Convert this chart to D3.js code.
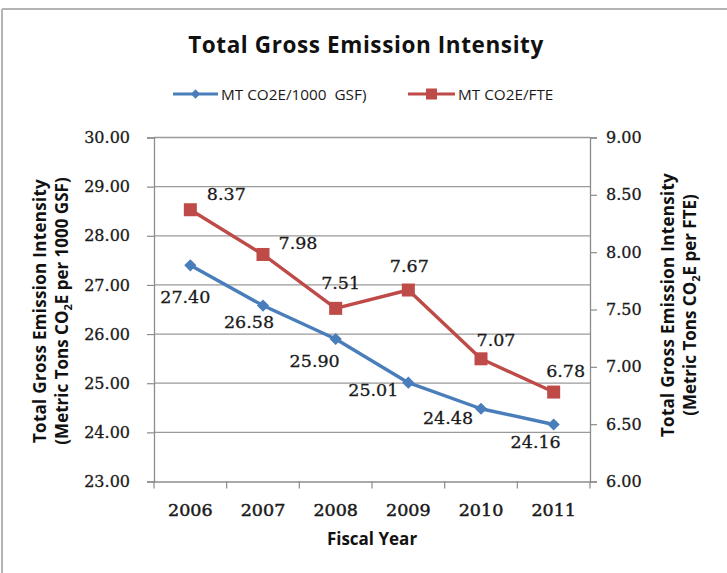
<!DOCTYPE html>
<html>
<head>
<meta charset="utf-8">
<script src="https://cdn.jsdelivr.net/npm/d3@7"></script>
<style>
  html, body { margin: 0; padding: 0; background: #fff; }
  svg { display: block; }
</style>
</head>
<body>
<svg id="chart" width="727" height="573"></svg>
<script>
const years = ["2006", "2007", "2008", "2009", "2010", "2011"];
const gsfValues = [27.40, 26.58, 25.90, 25.01, 24.48, 24.16];
const fteValues = [8.37, 7.98, 7.51, 7.67, 7.07, 6.78];
const leftTicks = [23, 24, 25, 26, 27, 28, 29, 30];
const rightTicks = [6.0, 6.5, 7.0, 7.5, 8.0, 8.5, 9.0];
const seriesNames = ["MT CO2E/1000\u00a0 GSF)", "MT CO2E/FTE"];
// label nudges (dx, dy) relative to the point, as placed in the reference
const gsfLabelNudge = [[-5, 31], [-14, 16], [-21, 22], [-35, 7], [-33, 9], [-18, 17]];
const fteLabelNudge = [[36, -16], [35, -12], [5, -26], [1, -24], [15, -19], [12, -21]];

const BLUE = "#4a7ebb", RED = "#be4b48";
const sans = "'Open Sans', Lato, sans-serif";
const serif = "'DejaVu Serif', serif";

const svg = d3.select("#chart");
const L = 154, R = 590, T = 137.5, B = 481.5;

const x = d3.scaleBand().domain(years).range([L, R]);
const yL = d3.scaleLinear().domain([23, 30]).range([B, T]);
const yR = d3.scaleLinear().domain([6, 9]).range([B, T]);

// outer frame (top and left edges visible)
svg.append("line").attr("x1", 2).attr("x2", 727).attr("y1", 9).attr("y2", 9)
  .attr("stroke", "#b4b4b4").attr("stroke-width", 2);
svg.append("line").attr("x1", 2).attr("x2", 2).attr("y1", 9).attr("y2", 573)
  .attr("stroke", "#b4b4b4").attr("stroke-width", 2);

// gridlines
svg.append("g").selectAll("line").data(leftTicks.filter(d => d > 23)).join("line")
  .attr("x1", L).attr("x2", R)
  .attr("y1", d => yL(d)).attr("y2", d => yL(d))
  .attr("stroke", "#9a9a9a").attr("stroke-width", 1.3);

// left axis
const axL = svg.append("g").attr("transform", `translate(${L},0)`)
  .call(d3.axisLeft(yL).tickValues(leftTicks).tickFormat(d3.format(".2f")).tickSize(7).tickPadding(17));
// right axis
const axR = svg.append("g").attr("transform", `translate(${R},0)`)
  .call(d3.axisRight(yR).tickValues(rightTicks).tickFormat(d3.format(".2f")).tickSize(7).tickPadding(9));
// bottom axis
const axB = svg.append("g").attr("transform", `translate(0,${B})`)
  .call(d3.axisBottom(x).tickSize(0).tickPadding(22));
// bottom tick marks at category boundaries
svg.append("g").selectAll("line").data(years.map(y => x(y)).concat([R])).join("line")
  .attr("x1", d => d).attr("x2", d => d).attr("y1", B).attr("y2", B + 7)
  .attr("stroke", "#8c8c8c").attr("stroke-width", 1.2);

[axL, axR, axB].forEach(g => {
  g.selectAll(".domain").attr("stroke", "#8c8c8c").attr("stroke-width", 1.3);
  g.selectAll(".tick line").attr("stroke", "#8c8c8c").attr("stroke-width", 1.2);
  g.selectAll("text").attr("font-family", serif).attr("font-size", 16).attr("fill", "#1a1a1a")
    .attr("stroke", "#1a1a1a").attr("stroke-width", 0.3);
});
axB.selectAll("text").attr("font-size", 17.5).attr("stroke-width", 0.5);
axB.selectAll(".domain").attr("d", `M${L},0.5H${R}`);

// lines
const lineL = d3.line().x((d, i) => x(years[i]) + x.bandwidth() / 2).y(d => yL(d));
const lineR = d3.line().x((d, i) => x(years[i]) + x.bandwidth() / 2).y(d => yR(d));

svg.append("path").datum(gsfValues).attr("d", lineL)
  .attr("fill", "none").attr("stroke", BLUE).attr("stroke-width", 3.4).attr("stroke-linejoin", "round");
svg.append("path").datum(fteValues).attr("d", lineR)
  .attr("fill", "none").attr("stroke", RED).attr("stroke-width", 3.4).attr("stroke-linejoin", "round");

const diamond = d3.symbol().type(d3.symbolDiamond2).size(95);
svg.append("g").selectAll("path").data(gsfValues).join("path")
  .attr("d", diamond)
  .attr("transform", (d, i) => `translate(${x(years[i]) + x.bandwidth() / 2},${yL(d)})`)
  .attr("fill", BLUE);
svg.append("g").selectAll("rect").data(fteValues).join("rect")
  .attr("x", (d, i) => x(years[i]) + x.bandwidth() / 2 - 6.5)
  .attr("y", d => yR(d) - 6.5)
  .attr("width", 13).attr("height", 13)
  .attr("fill", RED);

// data labels
function labels(vals, scale, nudge) {
  svg.append("g").selectAll("text").data(vals).join("text")
    .attr("x", (d, i) => x(years[i]) + x.bandwidth() / 2 + nudge[i][0])
    .attr("y", (d, i) => scale(d) + nudge[i][1])
    .attr("dy", "0.36em").attr("text-anchor", "middle")
    .attr("font-family", serif).attr("font-size", 17.5).attr("fill", "#1a1a1a")
    .attr("stroke", "#1a1a1a").attr("stroke-width", 0.3)
    .text(d => d.toFixed(2));
}
labels(gsfValues, yL, gsfLabelNudge);
labels(fteValues, yR, fteLabelNudge);

// title
svg.append("text").attr("x", 366).attr("y", 53).attr("text-anchor", "middle")
  .attr("font-family", sans).attr("font-weight", "bold").attr("font-size", 22.5)
  .attr("letter-spacing", 0.6).attr("fill", "#111")
  .text("Total Gross Emission Intensity");

// legend
const legend = svg.append("g");
const legItems = [
  { name: seriesNames[0], color: BLUE, x1: 173, x2: 218, tx: 221, mark: "diamond" },
  { name: seriesNames[1], color: RED, x1: 408, x2: 455, tx: 458, mark: "square" }
];
legItems.forEach(it => {
  legend.append("line").attr("x1", it.x1).attr("x2", it.x2).attr("y1", 94).attr("y2", 94)
    .attr("stroke", it.color).attr("stroke-width", 3);
  const cx = (it.x1 + it.x2) / 2;
  if (it.mark === "diamond") {
    legend.append("path").attr("d", d3.symbol().type(d3.symbolDiamond2).size(55)())
      .attr("transform", `translate(${cx},94)`).attr("fill", it.color);
  } else {
    legend.append("rect").attr("x", cx - 5.5).attr("y", 88.5).attr("width", 11).attr("height", 11).attr("fill", it.color);
  }
  legend.append("text").attr("x", it.tx).attr("y", 99.5)
    .attr("font-family", sans).attr("font-size", 15.3).attr("fill", "#1a1a1a")
    .text(it.name);
});

// axis titles
function axisTitle(cx, cy, unit) {
  const g = svg.append("g").attr("transform", `translate(${cx},${cy}) rotate(-90)`);
  g.append("text").attr("x", 0).attr("y", 0).attr("text-anchor", "middle")
    .attr("font-family", sans).attr("font-weight", "bold").attr("font-size", 17)
    .attr("letter-spacing", 0.3).attr("fill", "#111")
    .text("Total Gross Emission Intensity");
  const t2 = g.append("text").attr("x", 0).attr("y", 22).attr("text-anchor", "middle")
    .attr("font-family", sans).attr("font-weight", "bold").attr("font-size", 17).attr("fill", "#111");
  t2.append("tspan").text("(Metric Tons CO");
  t2.append("tspan").attr("font-size", 11).attr("dy", 4).text("2");
  t2.append("tspan").attr("dy", -4).text("E per " + unit + ")");
}
axisTitle(46, 311, "1000 GSF");
axisTitle(674, 305, "FTE");

// x axis title
svg.append("text").attr("x", 372).attr("y", 545).attr("text-anchor", "middle")
  .attr("font-family", sans).attr("font-weight", "bold").attr("font-size", 17).attr("fill", "#111")
  .text("Fiscal Year");
</script>
</body>
</html>
